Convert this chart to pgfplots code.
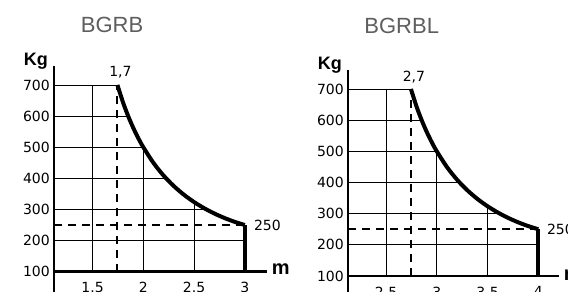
\documentclass[border=0pt]{standalone}
\usepackage{fontspec}
\setmainfont{DejaVu Sans}
\newfontfamily\lib{Liberation Sans}
\usepackage{pgfplots}
\pgfplotsset{compat=1.18}
\definecolor{titlegray}{HTML}{5E5E5E}
\pgfplotsset{
  loadchart/.style={
    scale only axis, clip=false,
    ymin=100, ymax=760,
    axis x line*=bottom, axis y line*=left,
    axis line style={line width=2.8pt, -},
    major tick length=0pt,
    ytick={100,200,...,700},
    ticklabel style={font=\fontsize{14}{14}\selectfont},
    /pgf/number format/assume math mode=true,
    yticklabel style={inner sep=0pt, xshift=-4pt},
    xticklabel style={inner sep=0pt, yshift=-10.5pt},
  },
}
\tikzset{
  gridl/.style={line width=0.8pt, black},
  dashl/.style={line width=2pt, black, dash pattern=on 8pt off 6pt},
  curvel/.style={line width=4pt, black},
  numlab/.style={font=\fontsize{14}{14}\selectfont, inner sep=0pt},
  unitlab/.style={font=\lib\bfseries\fontsize{18}{18}\selectfont, inner sep=0pt},
  mlab/.style={font=\lib\bfseries\fontsize{20}{20}\selectfont, inner sep=0pt},
}
\begin{document}
\begin{tikzpicture}
% ---------- BGRB ----------
\begin{axis}[loadchart, at={(54pt,20.3pt)}, anchor=south west,
  width=213.15pt, height=205.4pt, xmin=1.12, xmax=3.22,
  xtick={1.5,2,2.5,3}, xticklabels={1.5,2,2.5,3}]
\addplot[gridl] coordinates {(1.12,700) (1.745,700)};
\addplot[gridl] coordinates {(1.12,600) (1.851,600)};
\addplot[gridl] coordinates {(1.12,500) (2.0,500)};
\addplot[gridl] coordinates {(1.12,400) (2.222,400)};
\addplot[gridl] coordinates {(1.12,300) (2.594,300)};
\addplot[gridl] coordinates {(1.12,200) (3.0,200)};
\addplot[gridl] coordinates {(1.5,100) (1.5,700)};
\addplot[gridl] coordinates {(2.0,100) (2.0,500)};
\addplot[gridl] coordinates {(2.5,100) (2.5,324)};
\addplot[dashl] coordinates {(1.745,100) (1.745,690)};
\addplot[dashl] coordinates {(1.12,250) (3.0,250)};
\addplot[curvel, smooth] coordinates {(1.745,700) (1.8,644) (1.85,600.7) (1.9,562.8) (1.95,529.4) (2.0,500) (2.1,449.5) (2.2,408.8) (2.3,375.3) (2.4,347.3) (2.5,323.8) (2.6,303.9) (2.7,286.9) (2.8,272.5) (2.9,260.2) (3.0,250)};
\addplot[curvel] coordinates {(3,250) (3,100)};
\draw[line width=2.8pt] (rel axis cs:0,0) -- ([yshift=-25pt]rel axis cs:0,0);
\node[numlab, anchor=base, xshift=3pt, yshift=8pt] at (axis cs:1.745,700) {1,7};
\node[numlab, anchor=west, xshift=9pt] at (axis cs:3,250) {250};
\node[mlab, anchor=base west, xshift=4.5pt, yshift=-2.5pt] at (rel axis cs:1,0) {m};
\node[unitlab, anchor=base east, xshift=-6pt, yshift=1pt] at (rel axis cs:0,1) {Kg};
\end{axis}
% ---------- BGRBL ----------
\begin{axis}[loadchart, at={(348pt,16pt)}, anchor=south west,
  width=210.6pt, height=205.7pt, xmin=2.125, xmax=4.2,
  xtick={2.5,3,3.5,4}, xticklabels={2.5,3,3.5,4}]
\addplot[gridl] coordinates {(2.125,700) (2.745,700)};
\addplot[gridl] coordinates {(2.125,600) (2.851,600)};
\addplot[gridl] coordinates {(2.125,500) (3.0,500)};
\addplot[gridl] coordinates {(2.125,400) (3.222,400)};
\addplot[gridl] coordinates {(2.125,300) (3.594,300)};
\addplot[gridl] coordinates {(2.125,200) (4.0,200)};
\addplot[gridl] coordinates {(2.5,100) (2.5,700)};
\addplot[gridl] coordinates {(3.0,100) (3.0,500)};
\addplot[gridl] coordinates {(3.5,100) (3.5,324)};
\addplot[dashl] coordinates {(2.745,100) (2.745,690)};
\addplot[dashl] coordinates {(2.125,250) (4.0,250)};
\addplot[curvel, smooth] coordinates {(2.745,700) (2.8,644) (2.85,600.7) (2.9,562.8) (2.95,529.4) (3.0,500) (3.1,449.5) (3.2,408.8) (3.3,375.3) (3.4,347.3) (3.5,323.8) (3.6,303.9) (3.7,286.9) (3.8,272.5) (3.9,260.2) (4.0,250)};
\addplot[curvel] coordinates {(4,250) (4,100)};
\draw[line width=2.8pt] (rel axis cs:0,0) -- ([yshift=-25pt]rel axis cs:0,0);
\node[numlab, anchor=base, xshift=3pt, yshift=8pt] at (axis cs:2.745,700) {2,7};
\node[numlab, anchor=west, xshift=8.5pt] at (axis cs:4,250) {250};
\node[mlab, anchor=base west, xshift=5pt, yshift=-4pt] at (rel axis cs:1,0) {m};
\node[unitlab, anchor=base east, xshift=-6pt, yshift=1pt] at (rel axis cs:0,1) {Kg};
\end{axis}
\node[font=\lib\fontsize{22}{22}\selectfont, text=titlegray, anchor=base] at (112pt,259pt) {BGRB};
\node[font=\lib\fontsize{22}{22}\selectfont, text=titlegray, anchor=base] at (401.7pt,258.7pt) {BGRBL};
\pgfresetboundingbox
\path[use as bounding box] (0,0) rectangle (568pt,292pt);
\end{tikzpicture}
\end{document}
